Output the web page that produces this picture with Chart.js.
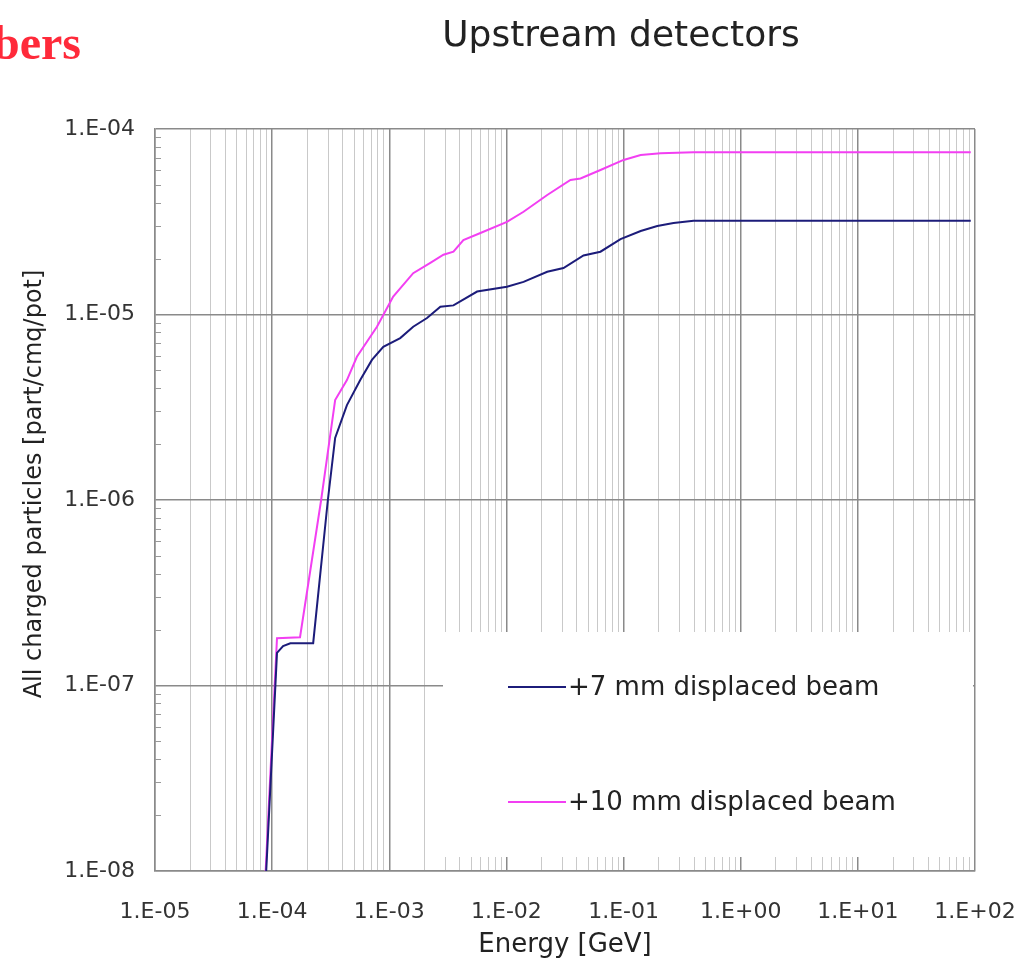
<!DOCTYPE html>
<html>
<head>
<meta charset="utf-8">
<script src="https://cdn.jsdelivr.net/npm/chart.js@4.4.1/dist/chart.umd.min.js"></script>
<style>
  body { margin: 0; background: #fff; }
  #wrap { position: relative; width: 1018px; height: 965px; overflow: hidden; }
  #cut { position: absolute; left: -7px; top: 15px; font: bold 48px "Liberation Serif", serif; color: #ff2a3a; }
</style>
</head>
<body>
<div id="wrap">
  <canvas id="myChart" width="1018" height="965"></canvas>
  <div id="cut">bers</div>
</div>
<script>
// data (energy in GeV, flux in part/cmq/pot)
const blueEnergy = [8.9e-5, 1.10e-4, 1.24e-4, 1.43e-4, 2.24e-4, 2.99e-4, 3.45e-4, 4.35e-4, 5.65e-4, 7.11e-4,
  8.89e-4, 1.24e-3, 1.60e-3, 2.10e-3, 2.73e-3, 3.53e-3, 5.62e-3, 1.01e-2, 1.40e-2, 2.23e-2,
  3.07e-2, 4.55e-2, 6.35e-2, 9.42e-2, 0.140, 0.194, 0.267, 0.396, 92];
const blueFlux = [1e-8, 1.50e-7, 1.63e-7, 1.69e-7, 1.69e-7, 1.0e-6, 2.16e-6, 3.25e-6, 4.43e-6, 5.69e-6,
  6.70e-6, 7.46e-6, 8.59e-6, 9.57e-6, 1.10e-5, 1.12e-5, 1.33e-5, 1.41e-5, 1.50e-5, 1.70e-5,
  1.78e-5, 2.08e-5, 2.18e-5, 2.55e-5, 2.82e-5, 3.00e-5, 3.11e-5, 3.20e-5, 3.20e-5];

const pinkEnergy = [8.8e-5, 1.10e-4, 1.73e-4, 2.62e-4, 3.45e-4, 4.35e-4, 5.29e-4, 7.85e-4, 1.08e-3, 1.60e-3,
  2.24e-3, 2.90e-3, 3.53e-3, 4.29e-3, 6.0e-3, 1.01e-2, 1.40e-2, 2.23e-2, 3.52e-2, 4.29e-2,
  6.35e-2, 0.100, 0.140, 0.207, 0.396, 92];
const pinkFlux = [1e-8, 1.80e-7, 1.82e-7, 1.0e-6, 3.46e-6, 4.43e-6, 5.92e-6, 8.59e-6, 1.25e-5, 1.67e-5,
  1.90e-5, 2.10e-5, 2.18e-5, 2.52e-5, 2.75e-5, 3.16e-5, 3.58e-5, 4.41e-5, 5.31e-5, 5.41e-5,
  6.01e-5, 6.81e-5, 7.24e-5, 7.40e-5, 7.49e-5, 7.49e-5];

const seriesNames = ["+7 mm displaced beam", "+10 mm displaced beam"];

const xDecades = [-5, -4, -3, -2, -1, 0, 1, 2];
const xTickLabels = ["1.E-05", "1.E-04", "1.E-03", "1.E-02", "1.E-01", "1.E+00", "1.E+01", "1.E+02"];
const yDecades = [-8, -7, -6, -5, -4];
const yTickLabels = ["1.E-08", "1.E-07", "1.E-06", "1.E-05", "1.E-04"];

const FONT = "DejaVu Sans";

function decadeOf(v) {
  const e = Math.round(Math.log10(v));
  return Math.abs(v - Math.pow(10, e)) / v < 1e-6 ? e : null;
}

function points(xs, ys) {
  return xs.map((x, i) => ({ x: x, y: ys[i] }));
}

// white legend panel, legend entries, minor y ticks and the texts drawn by hand
const extras = {
  id: "extras",
  beforeDatasetsDraw(chart) {
    const ctx = chart.ctx;
    ctx.save();
    ctx.fillStyle = "#fff";
    ctx.fillRect(443, 632, 530, 225);

    // little minor ticks inside the left axis
    const y = chart.scales.y;
    ctx.strokeStyle = "#999";
    ctx.lineWidth = 1;
    yDecades.slice(0, -1).forEach(d => {
      for (let m = 2; m <= 9; m++) {
        const py = Math.round(y.getPixelForValue(m * Math.pow(10, d))) + 0.5;
        ctx.beginPath();
        ctx.moveTo(chart.chartArea.left, py);
        ctx.lineTo(chart.chartArea.left + 6, py);
        ctx.stroke();
      }
    });

    // legend
    const rows = [687, 802];
    chart.data.datasets.forEach((ds, i) => {
      ctx.strokeStyle = ds.borderColor;
      ctx.lineWidth = 2;
      ctx.beginPath();
      ctx.moveTo(508, rows[i]);
      ctx.lineTo(566, rows[i]);
      ctx.stroke();
      ctx.fillStyle = "#222";
      ctx.font = "26px '" + FONT + "'";
      ctx.textBaseline = "middle";
      ctx.textAlign = "left";
      ctx.fillText(ds.label, 568, rows[i] + 1);
    });
    ctx.restore();
  },
  afterDraw(chart) {
    const ctx = chart.ctx;
    ctx.save();
    ctx.fillStyle = "#222";
    ctx.font = "36px '" + FONT + "'";
    ctx.textAlign = "center";
    ctx.textBaseline = "alphabetic";
    ctx.fillText("Upstream detectors", 621, 46);

    ctx.translate(35, 484);
    ctx.rotate(-Math.PI / 2);
    ctx.font = "24px '" + FONT + "'";
    ctx.textBaseline = "middle";
    ctx.fillText("All charged particles [part/cmq/pot]", 0, 0);
    ctx.restore();
  }
};

const ctx = document.getElementById("myChart");
let myChart = new Chart(ctx, {
  type: "line",
  data: {
    datasets: [{
      label: seriesNames[0],
      data: points(blueEnergy, blueFlux),
      borderColor: "#1c1c7a",
      borderWidth: 2,
      pointRadius: 0,
      tension: 0
    }, {
      label: seriesNames[1],
      data: points(pinkEnergy, pinkFlux),
      borderColor: "#f23ff2",
      borderWidth: 2,
      pointRadius: 0,
      tension: 0
    }]
  },
  options: {
    responsive: false,
    animation: false,
    devicePixelRatio: 1,
    layout: { padding: { left: 0, top: 129, right: 43, bottom: 0 } },
    plugins: {
      legend: { display: false },
      tooltip: { enabled: false }
    },
    scales: {
      x: {
        type: "logarithmic",
        min: 1e-5,
        max: 1e2,
        afterBuildTicks: scale => {
          const ticks = [];
          xDecades.forEach(d => {
            const top = d === xDecades[xDecades.length - 1] ? 1 : 9;
            for (let m = 1; m <= top; m++) ticks.push({ value: m * Math.pow(10, d) });
          });
          scale.ticks = ticks;
        },
        afterFit: scale => {
          scale.height = 94;
          scale.paddingLeft = 0;
          scale.paddingRight = 0;
        },
        ticks: {
          autoSkip: false,
          maxRotation: 0,
          padding: 28,
          color: "#333",
          font: { family: FONT, size: 22 },
          callback: v => {
            const d = decadeOf(v);
            return d === null ? "" : xTickLabels[xDecades.indexOf(d)];
          }
        },
        grid: {
          drawTicks: false,
          color: c => decadeOf(c.tick.value) === null ? "#c9c9c9" : "#8a8a8a",
          lineWidth: c => decadeOf(c.tick.value) === null ? 1 : 1.5
        },
        border: { color: "#8a8a8a", width: 1.5 },
        title: {
          display: true,
          text: "Energy [GeV]",
          color: "#222",
          font: { family: FONT, size: 26 },
          padding: { top: 0, bottom: 4 }
        }
      },
      y: {
        type: "logarithmic",
        min: 1e-8,
        max: 1e-4,
        afterBuildTicks: scale => {
          scale.ticks = yDecades.map(d => ({ value: Math.pow(10, d) }));
        },
        afterFit: scale => {
          scale.width = 155;
          scale.paddingTop = 0;
          scale.paddingBottom = 0;
        },
        ticks: {
          padding: 20,
          color: "#333",
          font: { family: FONT, size: 22 },
          callback: v => yTickLabels[yDecades.indexOf(decadeOf(v))]
        },
        grid: { drawTicks: false, color: "#8a8a8a", lineWidth: 1.5 },
        border: { color: "#8a8a8a", width: 1.5 }
      }
    }
  },
  plugins: [extras]
});
</script>
</body>
</html>
